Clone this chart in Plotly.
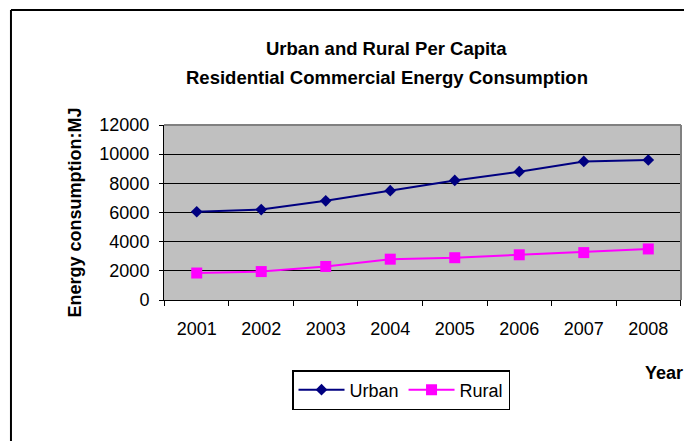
import plotly.graph_objects as go

years = ["2001", "2002", "2003", "2004", "2005", "2006", "2007", "2008"]
urban = [6050, 6200, 6800, 7500, 8200, 8800, 9500, 9600]
rural = [1850, 1950, 2300, 2800, 2900, 3100, 3250, 3500]
y_ticks = [0, 2000, 4000, 6000, 8000, 10000, 12000]

FONT = "Liberation Sans, Arial, sans-serif"

fig = go.Figure()
fig.add_trace(go.Scatter(
    x=years, y=urban, name="Urban", mode="lines+markers",
    line=dict(color="#000080", width=2),
    marker=dict(symbol="diamond", size=9, color="#000080"),
))
fig.add_trace(go.Scatter(
    x=years, y=rural, name="Rural", mode="lines+markers",
    line=dict(color="#FF00FF", width=2),
    marker=dict(symbol="square", size=11, color="#FF00FF"),
))

fig.update_layout(
    width=684, height=441,
    margin=dict(l=164, r=3, t=125, b=141),
    paper_bgcolor="white",
    plot_bgcolor="#C0C0C0",
    font=dict(family=FONT, size=18, color="black"),
    showlegend=True,
    legend=dict(
        orientation="h", x=0.2476, y=-0.40, xanchor="left", yanchor="top",
        bordercolor="black", borderwidth=1.5, bgcolor="white",
        font=dict(size=18), itemwidth=46, tracegroupgap=0,
    ),
    xaxis=dict(
        type="category", tickson="boundaries", ticks="outside", ticklen=5,
        tickcolor="black", showline=True, linecolor="black", linewidth=1,
        showgrid=False, ticklabelstandoff=12, tickfont=dict(size=18),
    ),
    yaxis=dict(
        range=[0, 12000], tickvals=y_ticks, tickformat="d", ticks="outside", ticklen=4,
        tickcolor="black", showline=True, linecolor="black", linewidth=1,
        showgrid=True, gridcolor="black", gridwidth=1, zeroline=False,
        tickfont=dict(size=18), ticklabelstandoff=6,
    ),
    shapes=[
        dict(type="line", xref="paper", yref="paper", x0=0, x1=1, y0=1, y1=1,
             line=dict(color="#808080", width=2), layer="above"),
        dict(type="line", xref="paper", yref="paper", x0=1, x1=1, y0=0, y1=1,
             line=dict(color="#808080", width=2), layer="above"),
        # outer chart frame: only its left and top edges fall inside the picture
        dict(type="line", xref="paper", yref="paper", x0=-0.296, x1=-0.296, y0=-0.9, y1=1.657,
             line=dict(color="black", width=2)),
        dict(type="line", xref="paper", yref="paper", x0=-0.296, x1=1.1, y0=1.657, y1=1.657,
             line=dict(color="black", width=2)),
    ],
    annotations=[
        dict(text="<b>Urban and Rural Per Capita</b>", xref="paper", yref="paper",
             x=0.431, y=1.44, xanchor="center", yanchor="middle", showarrow=False,
             font=dict(size=18.5)),
        dict(text="<b>Residential Commercial Energy Consumption</b>", xref="paper", yref="paper",
             x=0.431, y=1.274, xanchor="center", yanchor="middle", showarrow=False,
             font=dict(size=18.5)),
        dict(text="<b>Energy consumption:MJ</b>", xref="paper", yref="paper",
             x=-0.174, y=0.5, xanchor="center", yanchor="middle", textangle=-90,
             showarrow=False, font=dict(size=18)),
        dict(text="<b>Year</b>", xref="paper", yref="paper",
             x=0.9265, y=-0.417, xanchor="left", yanchor="middle",
             showarrow=False, font=dict(size=18)),
    ],
)

# remove the browser's default 8px body margin so the figure fills the window
fig.write_html(
    "out.html",
    config={"displayModeBar": False},
    post_script="document.body.style.margin='0';document.body.style.overflow='hidden';",
)
